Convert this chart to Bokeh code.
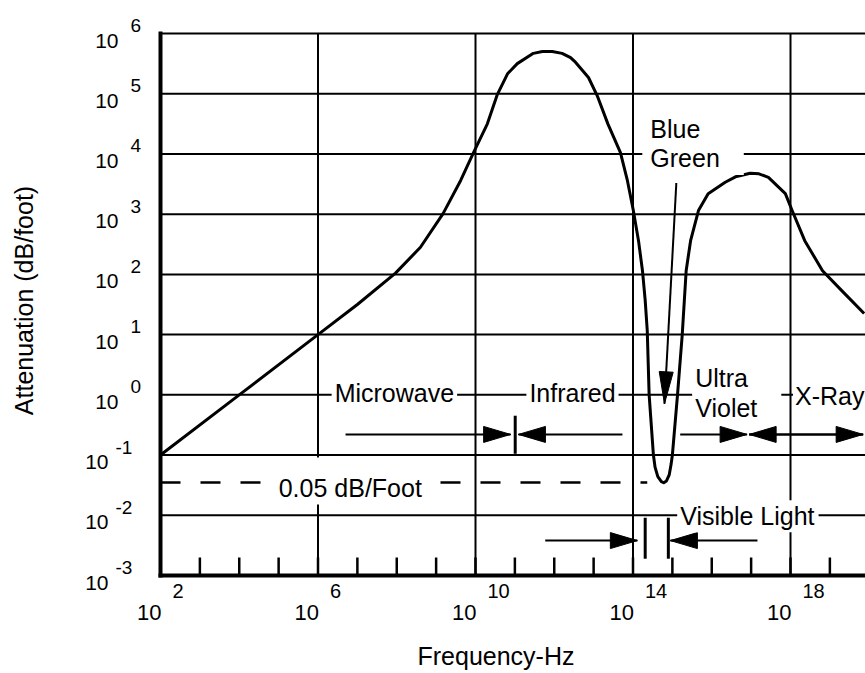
import math
from bokeh.plotting import figure
from bokeh.models import Range1d, Label, LabelSet, ColumnDataSource
from bokeh.core.properties import value
from bokeh.embed import file_html
from bokeh.resources import INLINE

# ---------------- data ----------------
freq_hz = [1e2, 1e4, 1e6, 1e7, 9.3e7, 4.0e8, 1.5e9, 4.2e9, 8.9e9, 2.0e10, 3.6e10,
           6.5e10, 1.15e11, 2.95e11, 5.0e11, 8.9e11, 1.58e12, 2.6e12, 3.5e12, 7.4e12,
           1.23e13, 2.3e13, 4.8e13, 7.2e13, 1.02e14, 1.38e14, 1.74e14, 2.04e14, 2.3e14,
           2.57e14, 3.3e14, 3.63e14, 4.27e14, 5.25e14, 6.03e14, 7.08e14, 8.3e14, 9.3e14,
           1.0e15, 1.35e15, 1.78e15, 2.24e15, 2.9e15, 4.6e15, 8.1e15, 2.2e16, 4.0e16,
           9.5e16, 1.58e17, 2.75e17, 7.4e17, 1.1e18, 2.3e18, 6.5e18, 2.0e19, 7.4e19]
atten_db_per_ft = [0.1, 1.0, 10, 31.6, 105, 282, 1020, 3630, 10500, 31600, 97700,
                   214000, 316000, 468000, 501000, 501000, 468000, 398000, 331000, 186000,
                   93300, 31600, 10500, 3630, 1150, 363, 115, 37, 11.7,
                   1.0, 0.1, 0.063, 0.0437, 0.0363, 0.0347, 0.0372, 0.0468, 0.0708,
                   0.1, 1.0, 10, 115, 363, 1150, 2190, 3390, 4170,
                   4790, 4680, 4070, 2190, 1150, 363, 115, 53.7, 22.4]

x_tick_decades = [1e3, 1e4, 1e5, 1e6, 1e7, 1e8, 1e9, 1e10, 1e11, 1e12, 1e13,
                  1e14, 1e15, 1e16, 1e17, 1e18, 1e19]
x_label_ticks = [1e2, 1e6, 1e10, 1e14, 1e18]
x_label_exps = ["2", "6", "10", "14", "18"]
x_grid_ticks = [1e6, 1e10, 1e14, 1e18]
y_ticks = [1e-3, 1e-2, 1e-1, 1e0, 1e1, 1e2, 1e3, 1e4, 1e5, 1e6]
y_label_exps = ["-3", "-2", "-1", "0", "1", "2", "3", "4", "5", "6"]
y_grid_ticks = [1e-2, 1e-1, 1e0, 1e1, 1e2, 1e3, 1e4, 1e5]

threshold_level = 0.035          # dashed "0.05 dB/Foot" line as drawn
threshold_span = [1e2, 2.3e14]

band_y_upper = 0.22
band_arrows_upper = [(5.0e6, 7.8e10), (5.4e13, 1.23e11), (1.58e15, 7.9e16),
                     (7.0e19, 8.9e16), (8.9e16, 7.0e19)]        # (tail, tip)
band_bars_upper = [1.02e11]
band_bar_upper_range = (0.105, 0.45)

band_y_lower = 0.0038
band_arrows_lower = [(5.9e11, 1.29e14), (1.45e17, 8.9e14)]
band_bars_lower = [2.04e14, 7.9e14]
band_bar_lower_range = (0.0019, 0.0091)

blue_green_tail = (1.26e15, 3300)
blue_green_tip = (6.3e14, 0.71)

region_names = ["Microwave", "Infrared", "Ultra", "Violet", "X-Ray",
                "Visible Light", "Blue", "Green", "0.05 dB/Foot"]
region_x = [8.7e7, 2.9e12, 3.8e15, 3.8e15, 1.3e18, 1.58e15, 2.75e14, 2.75e14, 6.6e6]
region_y = [1.0, 1.0, 1.0, 1.0, 1.0, 0.01, 1e4, 1e4, 0.035]

# ---------------- layout ----------------
W, H = 865, 673                  # canvas
L, T, B = 160, 33, 98            # plot-area margins inside the canvas
PXX = 630.0 / 16.0               # px per decade (x)
PXY = 542.0 / 9.0                # px per decade (y)
X0, Y0, Y1 = 1e2, 1e-3, 1e6
XL0 = math.log10(X0) - L / PXX
XL1 = XL0 + W / PXX
YL0 = math.log10(Y0) - B / PXY
YL1 = YL0 + H / PXY
X1 = 10 ** XL1                   # plot area runs to the canvas edge
FONT = "Liberation Sans"

p = figure(frame_width=W, frame_height=H, min_border=0,
           x_axis_type="log", y_axis_type="log",
           x_axis_location=None, y_axis_location=None,
           x_range=Range1d(10 ** XL0, 10 ** XL1), y_range=Range1d(10 ** YL0, 10 ** YL1),
           output_backend="svg", toolbar_location=None,
           background_fill_color="white", border_fill_color="white")
p.xgrid.visible = False
p.ygrid.visible = False
p.outline_line_color = None


def to_px(x, y):
    return ((math.log10(x) - XL0) * PXX, (math.log10(y) - YL0) * PXY)


def to_data(sx, sy):
    return (10 ** (XL0 + sx / PXX), 10 ** (YL0 + sy / PXY))


def head(tail, tip, length=27, half=8):
    tx, ty = to_px(*tip)
    fx, fy = to_px(*tail)
    d = math.hypot(tx - fx, ty - fy)
    ux, uy = (tx - fx) / d, (ty - fy) / d
    bx, by = tx - ux * length, ty - uy * length
    nx, ny = -uy, ux
    pts = [(tx, ty), (bx + nx * half, by + ny * half), (bx - nx * half, by - ny * half)]
    pts = [to_data(a, b) for a, b in pts]
    return [q[0] for q in pts], [q[1] for q in pts]


# ---- grid, ticks, axes ----
n = len(x_grid_ticks)
p.segment(x_grid_ticks, [Y0] * n, x_grid_ticks, [Y1] * n, line_width=2, color="black")
n = len(y_grid_ticks)
p.segment([X0] * n, y_grid_ticks, [X1] * n, y_grid_ticks, line_width=2, color="black")
tick_top = to_data(0, to_px(X0, Y0)[1] + 18)[1]
n = len(x_tick_decades)
p.segment(x_tick_decades, [Y0] * n, x_tick_decades, [tick_top] * n,
          line_width=2.5, color="black")
p.segment([X0], [Y1], [X1], [Y1], line_width=2, color="black")            # top border
p.segment([X0], [Y0], [X0], [Y1], line_width=4, color="black", line_cap="square")
p.segment([X0], [Y0], [X1], [Y0], line_width=4, color="black", line_cap="square")

# ---- main curve ----
p.line(freq_hz, atten_db_per_ft, line_width=3, color="black", line_join="round")

# ---- dashed threshold ----
p.line(threshold_span, [threshold_level, threshold_level], line_width=2.5,
       color="black", line_dash="20 20")

# ---- band arrows ----
hx, hy = [], []
for tail, tip in band_arrows_upper:
    p.line([tail, tip], [band_y_upper, band_y_upper], line_width=2, color="black")
    a, b = head((tail, band_y_upper), (tip, band_y_upper))
    hx.append(a); hy.append(b)
for tail, tip in band_arrows_lower:
    p.line([tail, tip], [band_y_lower, band_y_lower], line_width=2, color="black")
    a, b = head((tail, band_y_lower), (tip, band_y_lower))
    hx.append(a); hy.append(b)
p.line([blue_green_tail[0], blue_green_tip[0]], [blue_green_tail[1], blue_green_tip[1]],
       line_width=2, color="black")
a, b = head(blue_green_tail, blue_green_tip, length=32, half=7)
hx.append(a); hy.append(b)
p.patches(hx, hy, fill_color="black", line_color="black", line_width=1)

p.segment(band_bars_upper, [band_bar_upper_range[0]] * len(band_bars_upper),
          band_bars_upper, [band_bar_upper_range[1]] * len(band_bars_upper),
          line_width=3, color="black")
p.segment(band_bars_lower, [band_bar_lower_range[0]] * len(band_bars_lower),
          band_bars_lower, [band_bar_lower_range[1]] * len(band_bars_lower),
          line_width=3, color="black")

# ---- region labels (white box breaks the lines they sit on) ----
label_style = {
    "Microwave": dict(align="center", dy=2, pad=(3, 3, 2, 2)),
    "Infrared": dict(align="center", dy=2, pad=(3, 3, 2, 2)),
    "Ultra": dict(align="left", dy=17, pad=(3, 3, 2, 3)),
    "Violet": dict(align="left", dy=-13, pad=(3, 24, 3, 3)),
    "X-Ray": dict(align="left", dy=-1, pad=(2, 3, 2, 2)),
    "Visible Light": dict(align="left", dy=-1, pad=(3, 4, 2, 2)),
    "Blue": dict(align="left", dy=25, pad=(8, 3, 2, 2)),
    "Green": dict(align="left", dy=-4, pad=(8, 24, 2, 3)),
    "0.05 dB/Foot": dict(align="center", dy=-5, pad=(8, 8, 16, 3)),
}
for name, x, y in zip(region_names, region_x, region_y):
    st = label_style[name]
    pl, pr, pt, pb = st["pad"]
    dx = -pl if st["align"] == "left" else -(pl - pr) / 2.0
    dy = st["dy"] + (pt - pb) / 2.0
    p.add_layout(Label(x=x, y=y, text=name, x_offset=dx, y_offset=dy, text_font=FONT,
                       text_font_size="25px", text_color="black", text_align=st["align"],
                       text_baseline="middle", background_fill_color="white",
                       background_fill_alpha=1.0,
                       padding=dict(left=pl, right=pr, top=pt, bottom=pb)))

# ---- tick labels: "10" with raised exponent ----
xsrc = ColumnDataSource(dict(x=x_label_ticks, y=[Y0] * len(x_label_ticks),
                             base=["10"] * len(x_label_ticks), exp=x_label_exps))
p.add_layout(LabelSet(source=xsrc, x="x", y="y", text="base", x_offset=1, y_offset=-37,
                      text_align="right", text_baseline="middle",
                      text_font=value(FONT), text_font_size=value("22px"),
                      text_color="black"))
p.add_layout(LabelSet(source=xsrc, x="x", y="y", text="exp", x_offset=12, y_offset=-15,
                      text_align="left", text_baseline="middle",
                      text_font=value(FONT), text_font_size=value("20px"),
                      text_color="black"))

neg = [e.startswith("-") for e in y_label_exps]
ysrc = ColumnDataSource(dict(x=[X0] * len(y_ticks), y=y_ticks,
                             base=["10"] * len(y_ticks), exp=y_label_exps,
                             bx=[-52 if s else -42 for s in neg],
                             ex=[-45 if s else -30 for s in neg]))
p.add_layout(LabelSet(source=ysrc, x="x", y="y", text="base", x_offset="bx", y_offset=-7,
                      text_align="right", text_baseline="middle",
                      text_font=value(FONT), text_font_size=value("21px"),
                      text_color="black"))
p.add_layout(LabelSet(source=ysrc, x="x", y="y", text="exp", x_offset="ex", y_offset=8,
                      text_align="left", text_baseline="middle",
                      text_font=value(FONT), text_font_size=value("19px"),
                      text_color="black"))

# ---- axis titles ----
p.add_layout(Label(x=math.sqrt(X0 * X1), y=Y0, x_offset=-17, y_offset=-80,
                   text="Frequency-Hz", text_font=FONT, text_font_size="25px",
                   text_align="center", text_baseline="middle", text_color="black"))
p.add_layout(Label(x=X0, y=math.sqrt(Y0 * Y1), x_offset=-137, y_offset=4,
                   text="Attenuation (dB/foot)", text_font=FONT, text_font_size="25px",
                   angle=90, angle_units="deg",
                   text_align="center", text_baseline="middle", text_color="black"))

open("out.html", "w").write(file_html(p, INLINE))
